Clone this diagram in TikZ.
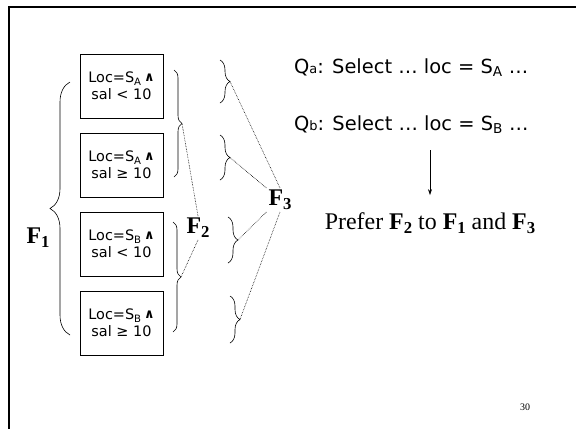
\documentclass[tikz,border=0pt]{standalone}
\usepackage{fontspec}
\setmainfont{Liberation Serif}
\newfontfamily\slidesans{DejaVu Sans}
\usepackage{tikz}
\usetikzlibrary{arrows.meta,positioning,decorations.pathreplacing}

\newcommand\Fsub[1]{\textbf{F\raisebox{-0.35ex}{\scalebox{0.7}{#1}}}}
\newcommand\andsym{\raisebox{0.15ex}{\scalebox{0.9}{\bfseries ∧}}}

\begin{document}
\begin{tikzpicture}[x=1bp, y=-1bp,
  frag/.style={draw, line width=0.8bp, align=center,
    font=\slidesans\fontsize{14.5}{17}\selectfont,
    minimum width=83bp, minimum height=64bp, inner sep=2bp},
  brc/.style={decorate, decoration={brace, amplitude=#1}, line width=0.6bp},
  link/.style={densely dotted, line width=0.6bp},
  flbl/.style={font=\fontsize{24}{28}\selectfont, inner sep=2bp},
  query/.style={font=\slidesans\fontsize{19.5}{22}\selectfont, anchor=west, inner sep=2bp},
]
  \useasboundingbox (0,0) rectangle (576,428);
  % slide frame
  \draw[line width=2.5bp] (9,432) -- (9,7) -- (580,7);

  % Fragments: name, y, site, salary test
  \foreach \n/\y/\s/\r in {1/86/A/{< 10}, 2/165/A/{≥ 10},
      3/244/B/{< 10}, 4/323/B/{≥ 10}}
    \node[frag] (frag\n) at (121.5,\y) {Loc=S\textsubscript{\s}\,\andsym\\sal \r};

  % Braces: name, x, top, bottom, amplitude
  \foreach \n/\x/\a/\b/\m in {f1/70/335/82/20, f2a/174/70/177/8,
      f2b/173/222/332/8, f3a/220/60/103/10, f3b/220/135/180/10,
      f3c/228/217/263/10, f3d/230/296/343/10} {
    \draw[brc=\m bp] (\x,\a) -- (\x,\b);
    \coordinate (tip-\n) at ({\x+\m},{(\a+\b)/2});
  }

  % Fragmentation labels
  \node[flbl] (f1) at (38,238) {\Fsub{1}};
  \node[flbl] (f2) at (198,228) {\Fsub{2}};
  \node[flbl] (f3) at (280,200) {\Fsub{3}};

  \draw[link] (f2.north) -- (tip-f2a);
  \draw[link] (f2.south) -- (tip-f2b);
  \draw[link] (f3.north) -- (tip-f3a);
  \draw[link] (f3.north west) -- (tip-f3b);
  \draw[link] (f3.south west) -- (tip-f3c);
  \draw[link] (f3.south) -- (tip-f3d);

  % Queries and the conclusion
  \node[query] (qa) at (292,68)
    {Q{\fontsize{13}{13}\selectfont a}: Select … loc = S\textsubscript{A} …};
  \node[query] (qb) at (292,125)
    {Q{\fontsize{13}{13}\selectfont b}: Select … loc = S\textsubscript{B} …};
  \node[font=\fontsize{24}{28}\selectfont] (prefer) at (430,223)
    {Prefer \Fsub{2} to \Fsub{1} and \Fsub{3}};
  \draw[-{Stealth[length=6bp, width=4bp]}, line width=0.6bp,
    shorten <=14bp, shorten >=14bp] (qb.south -| prefer.north) -- (prefer.north);

  \node[font=\fontsize{10}{12}\selectfont] (page) at (525,407) {30};
\end{tikzpicture}
\end{document}
